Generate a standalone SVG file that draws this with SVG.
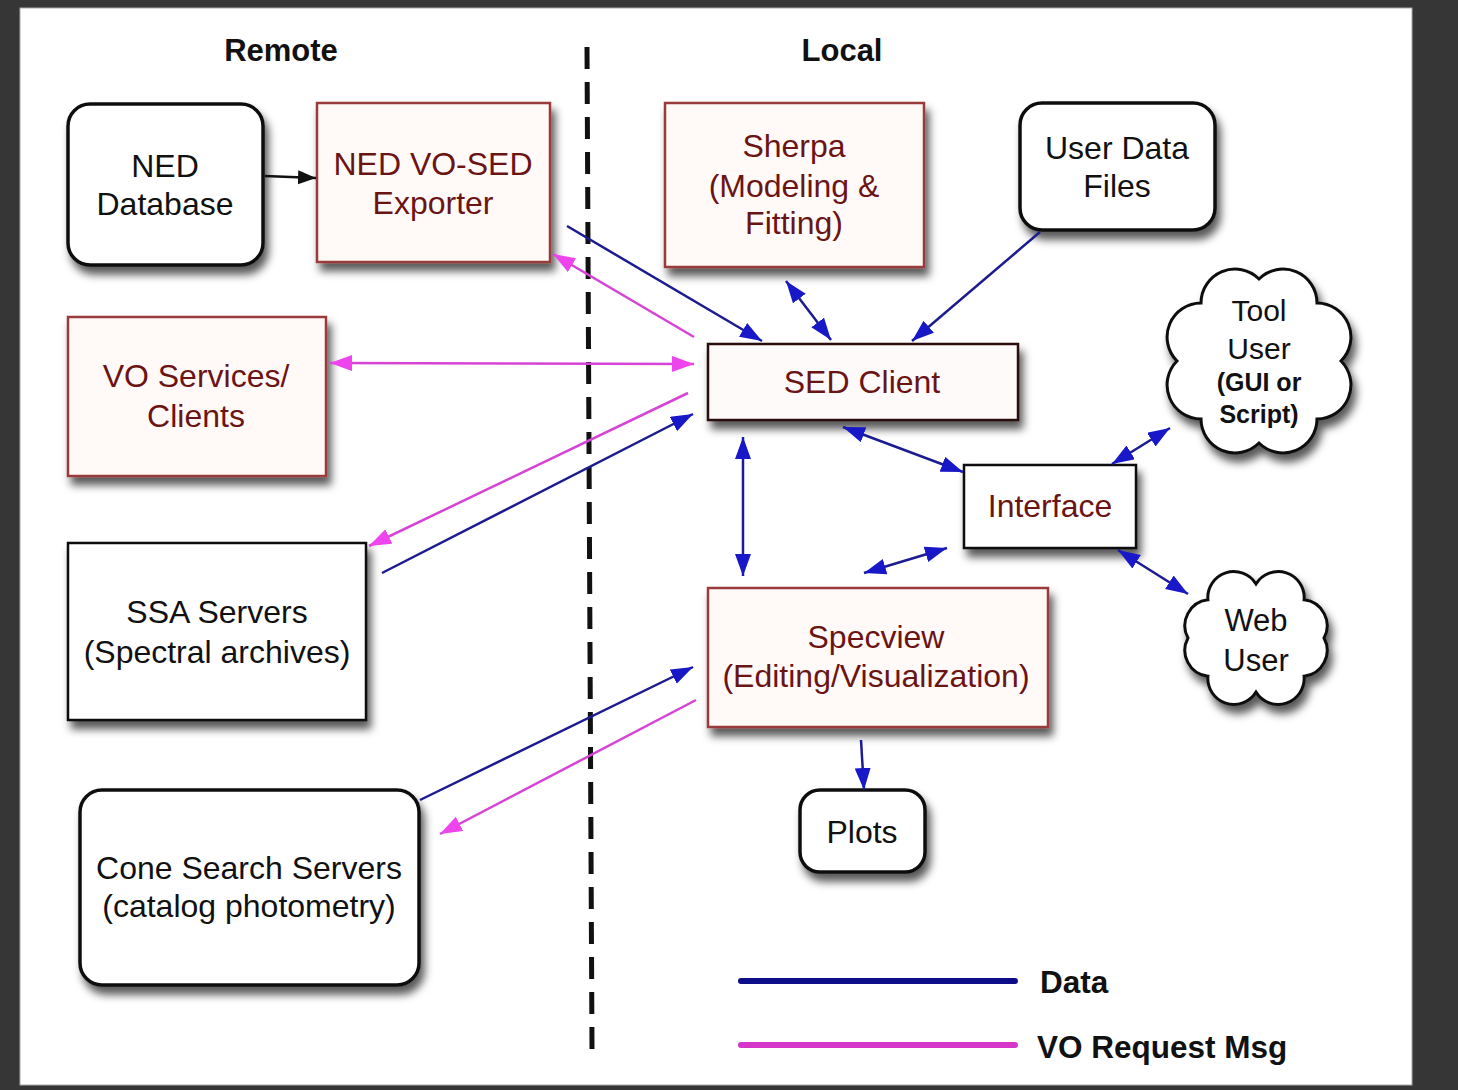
<svg xmlns="http://www.w3.org/2000/svg" width="1458" height="1090" viewBox="0 0 1458 1090">
<style>
text{font-family:"Liberation Sans",Arial,sans-serif;font-size:32px;text-anchor:middle;fill:#111}
.red text{fill:#6b1414}
.hdr{font-weight:bold;font-size:31px}
.leg{font-weight:bold;font-size:31.5px;text-anchor:start}
.rbox{fill:#fffaf8;stroke:#9a3a3a;stroke-width:2.5}
.kbox{fill:#fff;stroke:#111;stroke-width:3.5}
.sbox{fill:#fff;stroke:#111;stroke-width:2.5}
.blue{stroke:#1c1c90;stroke-width:2.5;fill:none}
.pink{stroke:#d544d5;stroke-width:2.5;fill:none}
</style>
<defs>
<filter id="sh" x="-20%" y="-20%" width="150%" height="160%">
<feDropShadow dx="4" dy="8" stdDeviation="4" flood-color="#000" flood-opacity="0.65"/>
</filter>
<marker id="ab" markerUnits="userSpaceOnUse" markerWidth="24" markerHeight="18" refX="22" refY="8" orient="auto-start-reverse">
<path d="M0,0 L22,8 L0,16 z" fill="#1818c8"/>
</marker>
<marker id="ap" markerUnits="userSpaceOnUse" markerWidth="24" markerHeight="18" refX="22" refY="8" orient="auto-start-reverse">
<path d="M0,0 L22,8 L0,16 z" fill="#ee44ee"/>
</marker>
<marker id="ak" markerUnits="userSpaceOnUse" markerWidth="20" markerHeight="16" refX="18" refY="7" orient="auto">
<path d="M0,0 L18,7 L0,14 z" fill="#111"/>
</marker>
</defs>
<rect x="0" y="0" width="1458" height="1090" fill="#363636"/>
<rect x="20" y="8" width="1392" height="1077" fill="#fff" stroke="#aaa" stroke-width="1"/>

<text class="hdr" x="281" y="61">Remote</text>
<text class="hdr" x="842" y="61">Local</text>
<line x1="587" y1="47" x2="592" y2="1050" stroke="#111" stroke-width="5" stroke-dasharray="22 13"/>

<g id="ned-database">
<rect class="kbox" x="68" y="104" width="195" height="161" rx="22" filter="url(#sh)"/>
<text x="165" y="177">NED</text>
<text x="165" y="215">Database</text>
</g>
<g id="ned-exporter" class="red">
<rect class="rbox" x="317" y="103" width="233" height="159" filter="url(#sh)"/>
<text x="433" y="175">NED VO-SED</text>
<text x="433" y="214">Exporter</text>
</g>
<g id="sherpa" class="red">
<rect class="rbox" x="665" y="103" width="259" height="164" filter="url(#sh)"/>
<text x="794" y="157">Sherpa</text>
<text x="794" y="197">(Modeling &amp;</text>
<text x="794" y="234">Fitting)</text>
</g>
<g id="user-data-files">
<rect class="kbox" x="1020" y="103" width="195" height="127" rx="22" filter="url(#sh)"/>
<text x="1117" y="159">User Data</text>
<text x="1117" y="197">Files</text>
</g>
<g id="tool-user">
<path d="M1341,361 A34,34 0 0 1 1316.98,418.98 A34,34 0 0 1 1259,443 A34,34 0 0 1 1201.02,418.98 A34,34 0 0 1 1177,361 A34,34 0 0 1 1201.02,303.02 A34,34 0 0 1 1259,279 A34,34 0 0 1 1316.98,303.02 A34,34 0 0 1 1341,361 Z" fill="#fff" stroke="#111" stroke-width="3" filter="url(#sh)"/>
<text x="1259" y="321" style="font-size:30px">Tool</text>
<text x="1259" y="359" style="font-size:30px">User</text>
<text x="1259" y="391" style="font-size:25px;font-weight:bold">(GUI or</text>
<text x="1259" y="423" style="font-size:25px;font-weight:bold">Script)</text>
</g>
<g id="vo-services" class="red">
<rect class="rbox" x="68" y="317" width="258" height="159" filter="url(#sh)"/>
<text x="196" y="387">VO Services/</text>
<text x="196" y="427">Clients</text>
</g>
<g id="sed-client" class="red">
<rect x="708" y="344" width="310" height="76" fill="#fffafa" stroke="#2a1010" stroke-width="2.5" filter="url(#sh)"/>
<text x="862" y="393">SED Client</text>
</g>
<g id="interface" class="red">
<rect x="964" y="465" width="172" height="83" fill="#fff" stroke="#111" stroke-width="2.5" filter="url(#sh)"/>
<text x="1050" y="517">Interface</text>
</g>
<g id="ssa-servers">
<rect class="sbox" x="68" y="543" width="298" height="177" filter="url(#sh)"/>
<text x="217" y="623">SSA Servers</text>
<text x="217" y="663">(Spectral archives)</text>
</g>
<g id="specview" class="red">
<rect class="rbox" x="708" y="588" width="340" height="139" filter="url(#sh)"/>
<text x="876" y="648">Specview</text>
<text x="876" y="687">(Editing/Visualization)</text>
</g>
<g id="web-user">
<path d="M1324,638 A26,26 0 0 1 1304.08,676.18 A26,26 0 0 1 1256,692 A26,26 0 0 1 1207.92,676.18 A26,26 0 0 1 1188,638 A26,26 0 0 1 1207.92,599.82 A26,26 0 0 1 1256,584 A26,26 0 0 1 1304.08,599.82 A26,26 0 0 1 1324,638 Z" fill="#fff" stroke="#111" stroke-width="3" filter="url(#sh)"/>
<text x="1256" y="631" style="font-size:31px">Web</text>
<text x="1256" y="671" style="font-size:31px">User</text>
</g>
<g id="plots">
<rect class="kbox" x="800" y="790" width="125" height="82" rx="20" filter="url(#sh)"/>
<text x="862" y="843">Plots</text>
</g>
<g id="cone-search">
<rect class="kbox" x="80" y="790" width="339" height="195" rx="22" filter="url(#sh)"/>
<text x="249" y="879">Cone Search Servers</text>
<text x="249" y="917">(catalog photometry)</text>
</g>

<g id="connectors">
<line x1="265" y1="176" x2="316" y2="178" stroke="#111" stroke-width="2.5" marker-end="url(#ak)"/>
<line class="blue" x1="567" y1="226" x2="762" y2="341" marker-end="url(#ab)"/>
<line class="pink" x1="694" y1="337" x2="553" y2="254" marker-end="url(#ap)"/>
<line class="blue" x1="786" y1="281" x2="831" y2="340" marker-start="url(#ab)" marker-end="url(#ab)"/>
<line class="blue" x1="1040" y1="232" x2="912" y2="341" marker-end="url(#ab)"/>
<line class="pink" x1="330" y1="363" x2="694" y2="364" marker-start="url(#ap)" marker-end="url(#ap)"/>
<line class="pink" x1="688" y1="393" x2="369" y2="546" marker-end="url(#ap)"/>
<line class="blue" x1="382" y1="573" x2="693" y2="414" marker-end="url(#ab)"/>
<line class="blue" x1="843" y1="427" x2="963" y2="472" marker-start="url(#ab)" marker-end="url(#ab)"/>
<line class="blue" x1="1112" y1="464" x2="1170" y2="428" marker-start="url(#ab)" marker-end="url(#ab)"/>
<line class="blue" x1="743" y1="437" x2="743" y2="576" marker-start="url(#ab)" marker-end="url(#ab)"/>
<line class="blue" x1="864" y1="573" x2="947" y2="548" marker-start="url(#ab)" marker-end="url(#ab)"/>
<line class="blue" x1="1118" y1="550" x2="1188" y2="594" marker-start="url(#ab)" marker-end="url(#ab)"/>
<line class="blue" x1="861" y1="740" x2="864" y2="790" marker-end="url(#ab)"/>
<line class="blue" x1="420" y1="800" x2="693" y2="667" marker-end="url(#ab)"/>
<line class="pink" x1="696" y1="700" x2="440" y2="834" marker-end="url(#ap)"/>
</g>

<g id="legend">
<line x1="741" y1="981" x2="1015" y2="981" stroke="#0d0d8a" stroke-width="6" stroke-linecap="round"/>
<text class="leg" x="1040" y="993">Data</text>
<line x1="741" y1="1045" x2="1015" y2="1045" stroke="#d535c8" stroke-width="6" stroke-linecap="round"/>
<text class="leg" x="1037" y="1058">VO Request Msg</text>
</g>
</svg>
